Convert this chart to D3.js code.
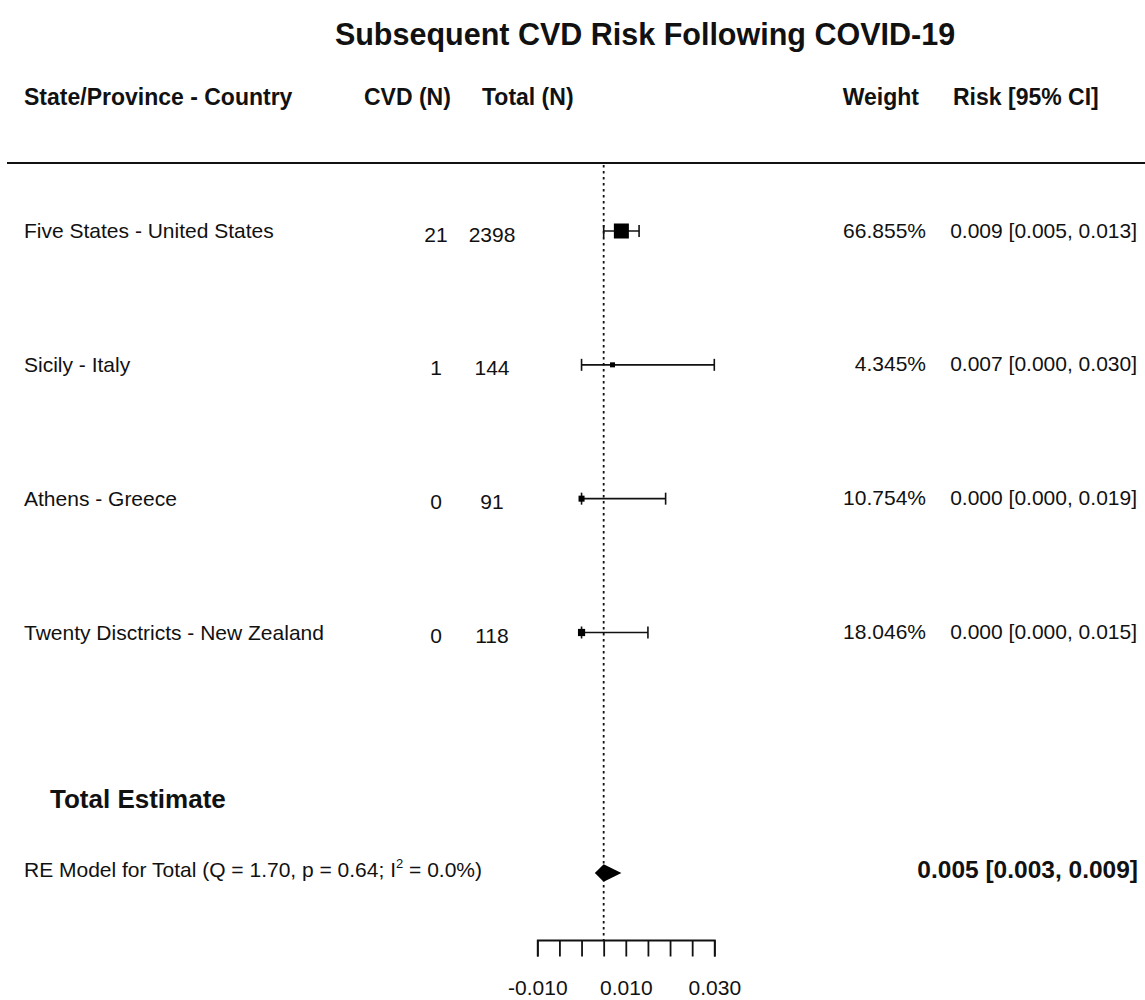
<!DOCTYPE html>
<html>
<head>
<meta charset="utf-8">
<script src="https://cdn.jsdelivr.net/npm/d3@7"></script>
<style>
  html, body { margin: 0; padding: 0; background: #fff; }
  svg { display: block; font-family: "Liberation Sans", Arial, Helvetica, sans-serif; }
</style>
</head>
<body>
<svg id="chart" width="1145" height="1000"></svg>
<script>
// Study-level data for the forest plot
const studies = [
  "Five States - United States",
  "Sicily - Italy",
  "Athens - Greece",
  "Twenty Disctricts - New Zealand"
];
const cvdN = [21, 1, 0, 0];
const totalN = [2398, 144, 91, 118];
const weights = [66.855, 4.345, 10.754, 18.046];
const risk = [0.009, 0.007, 0.000, 0.000];
const ciLow = [0.005, 0.000, 0.000, 0.000];
const ciHigh = [0.013, 0.030, 0.019, 0.015];

// Pooled random-effects estimate
const summaryEst = 0.005;
const summaryLow = 0.003;
const summaryHigh = 0.009;
const summaryLabel = "RE Model for Total (Q = 1.70, p = 0.64; I";
const summaryLabelTail = " = 0.0%)";

// Axis ticks and the subset that carries labels
const tickValues = [-0.010, -0.005, 0.000, 0.005, 0.010, 0.015, 0.020, 0.025, 0.030];
const tickLabelValues = [-0.010, 0.010, 0.030];
const tickLabels = ["-0.010", "0.010", "0.030"];

const svg = d3.select("#chart");
const ink = "#111";
const fmt3 = d3.format(".3f");

const x = d3.scaleLinear().domain([-0.010, 0.030]).range([537.3, 714.3]);
const y = d3.scaleLinear().domain([0, studies.length - 1]).range([231, 632.5]);
const ySummary = 873;
const yAxis = 940;
const size = d3.scaleLinear().domain(d3.extent(weights)).range([5, 15]);

// Title
svg.append("text")
  .attr("x", 645).attr("y", 45)
  .attr("text-anchor", "middle")
  .attr("font-size", 30.5).attr("font-weight", "bold").attr("fill", ink)
  .text("Subsequent CVD Risk Following COVID-19");

// Column headers
const header = svg.append("g").attr("font-size", 23).attr("font-weight", "bold").attr("fill", ink);
header.append("text").attr("x", 24).attr("y", 105).text("State/Province - Country");
header.append("text").attr("x", 364).attr("y", 105).text("CVD (N)");
header.append("text").attr("x", 482).attr("y", 105).text("Total (N)");
header.append("text").attr("x", 919).attr("y", 105).attr("text-anchor", "end").text("Weight");
header.append("text").attr("x", 953).attr("y", 105).text("Risk [95% CI]");

svg.append("line")
  .attr("x1", 7).attr("x2", 1145).attr("y1", 163).attr("y2", 163)
  .attr("stroke", ink).attr("stroke-width", 2);

// Reference line at the pooled estimate
svg.append("line")
  .attr("x1", x(summaryEst)).attr("x2", x(summaryEst))
  .attr("y1", 165).attr("y2", yAxis)
  .attr("stroke", ink).attr("stroke-width", 1.8)
  .attr("stroke-dasharray", "2.5,3.5");

// Study rows
const rows = svg.append("g").selectAll("g.row")
  .data(studies.map((s, i) => ({ s, i })))
  .join("g").attr("class", "row");

rows.append("text")
  .attr("x", 24).attr("y", d => y(d.i) + 7)
  .attr("font-size", 21).attr("fill", ink)
  .text(d => d.s);

rows.append("text")
  .attr("x", 436).attr("y", d => y(d.i) + 10.5)
  .attr("text-anchor", "middle")
  .attr("font-size", 21).attr("fill", ink)
  .text(d => cvdN[d.i]);

rows.append("text")
  .attr("x", 492).attr("y", d => y(d.i) + 10.5)
  .attr("text-anchor", "middle")
  .attr("font-size", 21).attr("fill", ink)
  .text(d => totalN[d.i]);

rows.append("text")
  .attr("x", 926).attr("y", d => y(d.i) + 6.5)
  .attr("text-anchor", "end")
  .attr("font-size", 21).attr("fill", ink)
  .text(d => weights[d.i].toFixed(3) + "%");

rows.append("text")
  .attr("x", 1137).attr("y", d => y(d.i) + 6.5)
  .attr("text-anchor", "end")
  .attr("font-size", 21).attr("fill", ink)
  .text(d => `${fmt3(risk[d.i])} [${fmt3(ciLow[d.i])}, ${fmt3(ciHigh[d.i])}]`);

// Confidence intervals with end caps
rows.append("line")
  .attr("x1", d => x(ciLow[d.i])).attr("x2", d => x(ciHigh[d.i]))
  .attr("y1", d => y(d.i)).attr("y2", d => y(d.i))
  .attr("stroke", ink).attr("stroke-width", 1.6);
rows.append("line")
  .attr("x1", d => x(ciLow[d.i])).attr("x2", d => x(ciLow[d.i]))
  .attr("y1", d => y(d.i) - 6).attr("y2", d => y(d.i) + 6)
  .attr("stroke", ink).attr("stroke-width", 1.6);
rows.append("line")
  .attr("x1", d => x(ciHigh[d.i])).attr("x2", d => x(ciHigh[d.i]))
  .attr("y1", d => y(d.i) - 6).attr("y2", d => y(d.i) + 6)
  .attr("stroke", ink).attr("stroke-width", 1.6);

// Point estimates sized by weight
rows.append("rect")
  .attr("x", d => x(risk[d.i]) - size(weights[d.i]) / 2)
  .attr("y", d => y(d.i) - size(weights[d.i]) / 2)
  .attr("width", d => size(weights[d.i]))
  .attr("height", d => size(weights[d.i]))
  .attr("fill", "#000");

// Summary block
svg.append("text")
  .attr("x", 50).attr("y", 808)
  .attr("font-size", 26).attr("font-weight", "bold").attr("fill", ink)
  .text("Total Estimate");

const reText = svg.append("text")
  .attr("x", 24).attr("y", 877)
  .attr("font-size", 21).attr("fill", ink);
reText.append("tspan").text(summaryLabel);
reText.append("tspan").attr("font-size", 13).attr("dy", -9).text("2");
reText.append("tspan").attr("dy", 9).text(summaryLabelTail);

svg.append("text")
  .attr("x", 1138).attr("y", 878)
  .attr("text-anchor", "end")
  .attr("font-size", 24.5).attr("font-weight", "bold").attr("fill", ink)
  .text(`${fmt3(summaryEst)} [${fmt3(summaryLow)}, ${fmt3(summaryHigh)}]`);

svg.append("path")
  .attr("d", d3.line()([
    [x(summaryLow), ySummary],
    [x(summaryEst), ySummary - 8.7],
    [x(summaryHigh), ySummary],
    [x(summaryEst), ySummary + 8.7]
  ]) + "Z")
  .attr("fill", "#000");

// X axis
const axis = d3.axisBottom(x)
  .tickValues(tickValues)
  .tickSizeInner(16.5)
  .tickSizeOuter(16.5)
  .tickPadding(24)
  .tickFormat(v => {
    const k = tickLabelValues.findIndex(t => Math.abs(t - v) < 1e-9);
    return k >= 0 ? tickLabels[k] : "";
  });

const gAxis = svg.append("g")
  .attr("transform", `translate(0,${yAxis})`)
  .call(axis);
gAxis.select(".domain").attr("stroke", ink).attr("stroke-width", 1.8);
gAxis.selectAll(".tick line").attr("stroke", ink).attr("stroke-width", 1.8);
gAxis.selectAll(".tick text")
  .attr("font-size", 21)
  .attr("font-family", "\"Liberation Sans\", Arial, sans-serif")
  .attr("fill", ink);
</script>
</body>
</html>
